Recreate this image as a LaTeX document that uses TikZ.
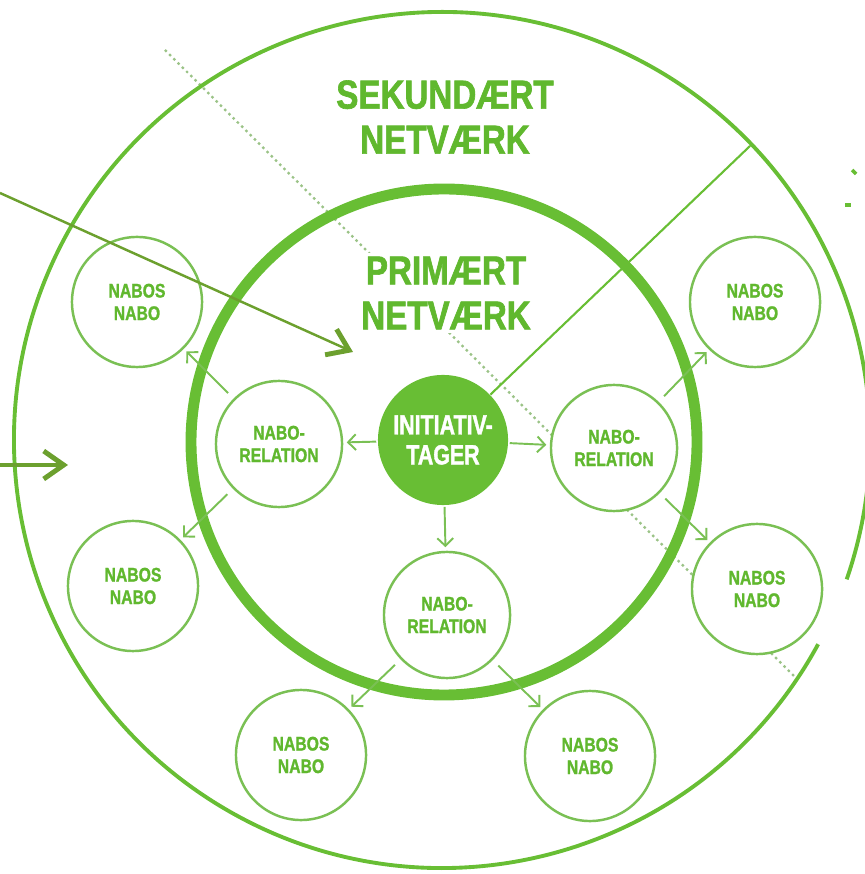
\documentclass[tikz,border=0pt]{standalone}
\usepackage{fontspec}
\usepackage{xcolor}
\usepackage{tikz}
\usetikzlibrary{arrows.meta,positioning}
\newfontfamily\netfont[FakeStretch=0.82, BoldFeatures={FakeBold=1.6}]{Liberation Sans}
\newfontfamily\nabofont[FakeStretch=0.8, BoldFeatures={FakeBold=1.2}]{Liberation Sans}
\newfontfamily\initfont[FakeStretch=0.77, BoldFeatures={FakeBold=1.4}]{Liberation Sans}
\definecolor{netgreen}{RGB}{104,190,52}
\definecolor{txtgreen}{RGB}{96,184,46}
\definecolor{circgreen}{RGB}{122,192,84}
\definecolor{ptrolive}{RGB}{108,160,46}
\definecolor{dotgreen}{RGB}{155,195,135}

\begin{document}
\begin{tikzpicture}[x=0.01cm, y=-0.01cm,
                    ring/.style={line width=1.1pt, netgreen},
                    core/.style={line width=3.1pt, netgreen},
                    nabo/.style={circle, draw=circgreen, line width=0.7pt, fill=white,
                                 minimum size=1.3cm, inner sep=0pt, align=center, text=txtgreen,
                                 font=\nabofont\bfseries\fontsize{5.6}{6.4}\selectfont},
                    relation/.style={nabo, minimum size=1.26cm},
                    initiativ/.style={circle, fill=netgreen, minimum size=1.3cm, inner sep=0pt,
                                      align=center, text=white,
                                      font=\initfont\bfseries\fontsize{7.9}{8.5}\selectfont},
                    title/.style={fill=white, inner sep=1pt, align=center, text=txtgreen,
                                  font=\netfont\bfseries\fontsize{11.5}{12.8}\selectfont},
                    link/.style={circgreen, line width=0.55pt,
                                 -{Straight Barb[length=2.2pt,width=4.5pt]},
                                 shorten <=2.2pt, shorten >=1pt},
                    pointer/.style={ptrolive, line width=0.7pt,
                                    -{Straight Barb[length=0.2cm,width=0.28cm,line width=1.4pt]}},
                   ]

\path[use as bounding box] (0,0) rectangle (865,874);
\clip (0,0) rectangle (865,874);

% free ends
\coordinate (dotA) at (165,50);
\coordinate (dotB) at (795,677);
\coordinate (rim) at (750,146);
\coordinate (ptrA) at (0,193);
\coordinate (ptrB) at (353,352);
\coordinate (ptrC) at (0,465);
\coordinate (ptrD) at (68,465);

\draw[dotgreen, line width=0.65pt, dash pattern=on 0.7pt off 1pt] (dotA) -- (dotB);

% the two networks
\draw[ring] (442,440) ++(28.5:428) arc[start angle=28.5, end angle=379, radius=428];
\draw[core] (444,442) circle[radius=253];

\node[title] (sek) at (445,117) {SEKUNDÆRT\\NETVÆRK};
\node[title] (prim) at (446,293) {PRIMÆRT\\NETVÆRK};

\node[initiativ] (init) at (443,440) {INITIATIV-\\TAGER};
\draw[netgreen, line width=0.6pt] (init) -- (rim);

\node[relation] (relL) at (279,444) {NABO-\\RELATION};
\node[relation] (relR) at (614,448) {NABO-\\RELATION};
\node[relation] (relB) at (447,615) {NABO-\\RELATION};

\node[nabo] (nnTL) at (137,302) {NABOS\\NABO};
\node[nabo] (nnL) at (133,586) {NABOS\\NABO};
\node[nabo] (nnBL) at (301,755) {NABOS\\NABO};
\node[nabo] (nnBR) at (590,756) {NABOS\\NABO};
\node[nabo] (nnR) at (757,589) {NABOS\\NABO};
\node[nabo] (nnTR) at (755,302) {NABOS\\NABO};

\draw[link, shorten <=0.3pt] (init) -- (relL);
\draw[link, shorten <=0.3pt] (init) -- (relR);
\draw[link, shorten <=0.3pt] (init) -- (relB);
\draw[link] (relL) -- (nnTL);
\draw[link] (relL) -- (nnL);
\draw[link] (relR) -- (nnTR);
\draw[link] (relR) -- (nnR);
\draw[link] (relB) -- (nnBL);
\draw[link] (relB) -- (nnBR);

% pointers from the left
\draw[pointer] (ptrA) -- (ptrB);
\draw[pointer, line width=1.1pt] (ptrC) -- (ptrD);

\draw[netgreen, line width=1pt] (852,170) -- (856,174);
\draw[netgreen, line width=1pt] (845,205) -- (851,205);

\end{tikzpicture}
\end{document}
